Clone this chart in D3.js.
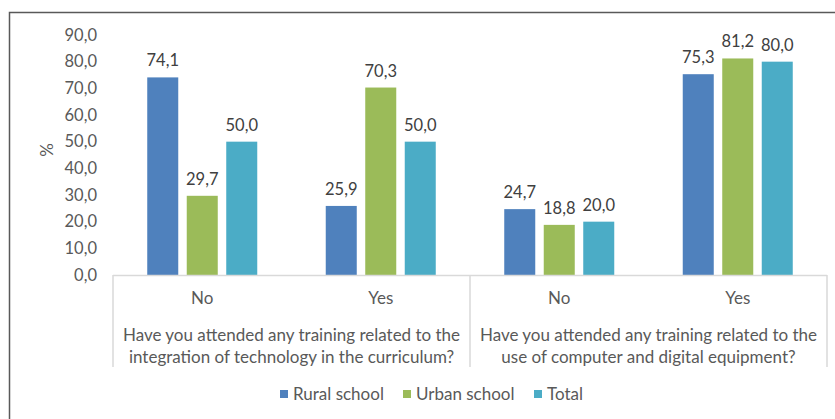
<!DOCTYPE html>
<html>
<head>
<meta charset="utf-8">
<script src="https://cdn.jsdelivr.net/npm/d3@7"></script>
<style>
  body { margin: 0; background: #fff; }
  text { font-family: Lato, "Open Sans", sans-serif; }
</style>
</head>
<body>
<svg id="chart"></svg>
<script>
var questions = [
    ["Have you attended any training related to the", "integration of technology in the curriculum?"],
    ["Have you attended any training related to the", "use of computer and digital equipment?"]
];
var answers = ["No", "Yes"];
var seriesNames = ["Rural school", "Urban school", "Total"];
var rural = [74.1, 25.9, 24.7, 75.3];
var urban = [29.7, 70.3, 18.8, 81.2];
var total = [50.0, 50.0, 20.0, 80.0];
var yTicks = [0, 10, 20, 30, 40, 50, 60, 70, 80, 90];
var colors = ["#4F81BD", "#9BBB59", "#4BACC6"];

var width = 835;
var height = 419;
var margin = {top: 35, bottom: 144, left: 113, right: 8};

var svg = d3.select('#chart')
    .attr('width', width)
    .attr('height', height);

// outer frame (cut off at right and bottom)
svg.append("rect")
    .attr("x", 9.5).attr("y", 12.5)
    .attr("width", 900).attr("height", 500)
    .attr("fill", "none")
    .attr("stroke", "#595959")
    .attr("stroke-width", 1.5);

var groups = [];
questions.forEach(function (q, qi) {
    answers.forEach(function (a, ai) {
        groups.push({q: qi, a: a, i: qi * answers.length + ai});
    });
});

var data = groups.map(function (g) {
    return {
        key: g.i,
        q: g.q,
        a: g.a,
        values: [rural[g.i], urban[g.i], total[g.i]]
    };
});

var x0 = d3.scaleBand()
    .domain(data.map(function (d) { return d.key; }))
    .range([margin.left, width - margin.right])
    .padding(0);

var x1 = d3.scaleBand()
    .domain(seriesNames)
    .range([0, x0.bandwidth()])
    .paddingInner(0.215)
    .paddingOuter(0.867);

var yScale = d3.scaleLinear()
    .domain([0, 90])
    .range([height - margin.bottom, margin.top]);

var fmt = function (v) { return d3.format(".1f")(v).replace(".", ","); };

// y axis labels
var yAxis = svg.append("g")
    .attr("transform", "translate(" + margin.left + ",0)")
    .call(d3.axisLeft(yScale).tickValues(yTicks).tickSize(0).tickPadding(16).tickFormat(fmt));
yAxis.select(".domain").remove();
yAxis.selectAll("text")
    .style("font-size", "16.5px")
    .style("font-family", "Lato, sans-serif")
    .attr("fill", "#595959");

svg.append("text")
    .attr("transform", "translate(53," + 150 + ")rotate(-90)")
    .attr("text-anchor", "middle")
    .style("font-size", "17px")
    .attr("fill", "#595959")
    .text("%");

// bars
var grp = svg.selectAll(".grp")
    .data(data)
    .enter().append("g")
    .attr("class", "grp")
    .attr("transform", function (d) { return "translate(" + x0(d.key) + ",0)"; });

grp.selectAll("rect")
    .data(function (d) { return d.values.map(function (v, i) { return {name: seriesNames[i], value: v, i: i}; }); })
    .enter().append("rect")
    .attr("x", function (d) { return x1(d.name); })
    .attr("y", function (d) { return yScale(d.value); })
    .attr("width", x1.bandwidth())
    .attr("height", function (d) { return yScale(0) - yScale(d.value); })
    .attr("fill", function (d) { return colors[d.i]; });

grp.selectAll(".lbl")
    .data(function (d) { return d.values.map(function (v, i) { return {name: seriesNames[i], value: v}; }); })
    .enter().append("text")
    .attr("class", "lbl")
    .attr("x", function (d) { return x1(d.name) + x1.bandwidth() / 2; })
    .attr("y", function (d) { return yScale(d.value) - 11; })
    .attr("text-anchor", "middle")
    .style("font-size", "16.5px")
    .attr("fill", "#404040")
    .text(function (d) { return fmt(d.value); });

// category axis (two levels)
var base = yScale(0);
var axisBottom = 367;
var lineColor = "#D9D9D9";
svg.append("line")
    .attr("x1", margin.left).attr("x2", width - margin.right)
    .attr("y1", base + 0.5).attr("y2", base + 0.5)
    .attr("stroke", lineColor).attr("stroke-width", 1.5);

var qEdges = [0, 2, 4].map(function (k) {
    return k < data.length ? x0(k) : x0(data.length - 1) + x0.bandwidth();
});
qEdges.forEach(function (xe) {
    svg.append("line")
        .attr("x1", xe).attr("x2", xe)
        .attr("y1", base).attr("y2", axisBottom)
        .attr("stroke", lineColor).attr("stroke-width", 1.5);
});

svg.selectAll(".ans")
    .data(data)
    .enter().append("text")
    .attr("class", "ans")
    .attr("x", function (d) { return x0(d.key) + x0.bandwidth() / 2; })
    .attr("y", 304)
    .attr("text-anchor", "middle")
    .style("font-size", "17px")
    .attr("fill", "#595959")
    .text(function (d) { return d.a; });

questions.forEach(function (q, qi) {
    var cx = (qEdges[qi] + qEdges[qi + 1]) / 2;
    q.forEach(function (line, li) {
        svg.append("text")
            .attr("x", cx)
            .attr("y", 341 + li * 22)
            .attr("text-anchor", "middle")
            .style("font-size", "17px")
            .attr("fill", "#595959")
            .text(line);
    });
});

// legend
var legendX = [280, 403, 534];
var legend = svg.selectAll(".leg")
    .data(seriesNames)
    .enter().append("g")
    .attr("class", "leg")
    .attr("transform", function (d, i) { return "translate(" + legendX[i] + ",390)"; });
legend.append("rect")
    .attr("width", 8).attr("height", 8)
    .attr("fill", function (d, i) { return colors[i]; });
legend.append("text")
    .attr("x", 13).attr("y", 10)
    .style("font-size", "17px")
    .attr("fill", "#595959")
    .text(function (d) { return d; });
</script>
</body>
</html>
